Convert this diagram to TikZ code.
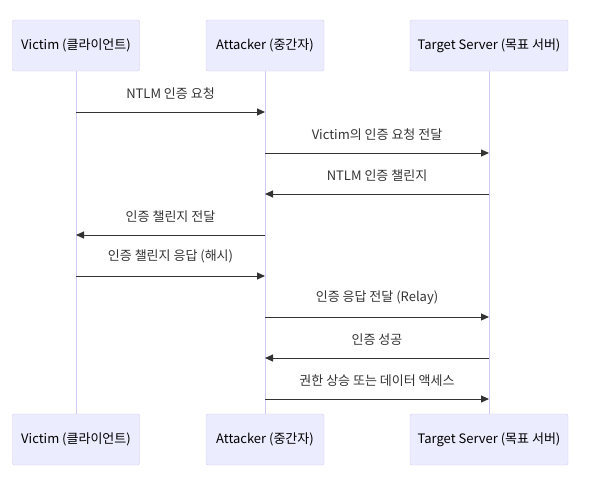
\documentclass[tikz,border=0pt]{standalone}
\usepackage{fontspec}
\setmainfont{Noto Sans CJK KR}
\usepackage{tikz}
\usetikzlibrary{positioning,arrows.meta}
\definecolor{actorfill}{HTML}{ECECFF}
\definecolor{actorline}{HTML}{D2C8F0}
\definecolor{ink}{HTML}{333333}

\tikzset{
  actor/.style={draw=actorline, fill=actorfill, rounded corners=2pt, minimum width=#1, minimum height=51pt, inner sep=0pt, text=black, font=\fontsize{13}{15}\selectfont},
  lifeline/.style={draw=actorline, line width=1pt},
  msg/.style={draw=ink, line width=1pt, -{Triangle[length=8pt,width=7pt]}},
  msglabel/.style={above=12pt, text=ink, font=\fontsize{13}{15}\selectfont, inner sep=0pt}
}

\begin{document}
\begin{tikzpicture}[x=1pt, y=-1pt]
      \useasboundingbox (0,0) rectangle (589,488);

      % actors, top and bottom
      \node [actor=127pt] at (76, 45.5) (victim) {Victim (클라이언트)};
      \node [actor=118pt] at (265, 45.5) (attacker) {Attacker (중간자)};
      \node [actor=158pt] at (489, 45.5) (target) {Target Server (목표 서버)};
      \node [actor=127pt] at (76, 439.5) (victimb) {Victim (클라이언트)};
      \node [actor=118pt] at (265, 439.5) (attackerb) {Attacker (중간자)};
      \node [actor=158pt] at (489, 439.5) (targetb) {Target Server (목표 서버)};

      \draw [lifeline] (victim) -- (victimb);
      \draw [lifeline] (attacker) -- (attackerb);
      \draw [lifeline] (target) -- (targetb);

      % message ends on the lifelines
      \foreach \n/\y in {1/112, 2/153, 3/194, 4/235, 5/276, 6/317, 7/358, 8/399} {
        \coordinate (v\n) at (76, \y);
        \coordinate (a\n) at (265, \y);
        \coordinate (t\n) at (489, \y);
      }

      \draw [msg] (v1) -- node [msglabel] {NTLM 인증 요청} (a1);
      \draw [msg] (a2) -- node [msglabel] {Victim의 인증 요청 전달} (t2);
      \draw [msg] (t3) -- node [msglabel] {NTLM 인증 챌린지} (a3);
      \draw [msg] (a4) -- node [msglabel] {인증 챌린지 전달} (v4);
      \draw [msg] (v5) -- node [msglabel] {인증 챌린지 응답 (해시)} (a5);
      \draw [msg] (a6) -- node [msglabel] {인증 응답 전달 (Relay)} (t6);
      \draw [msg] (t7) -- node [msglabel] {인증 성공} (a7);
      \draw [msg] (a8) -- node [msglabel] {권한 상승 또는 데이터 액세스} (t8);
    \end{tikzpicture}
\end{document}
